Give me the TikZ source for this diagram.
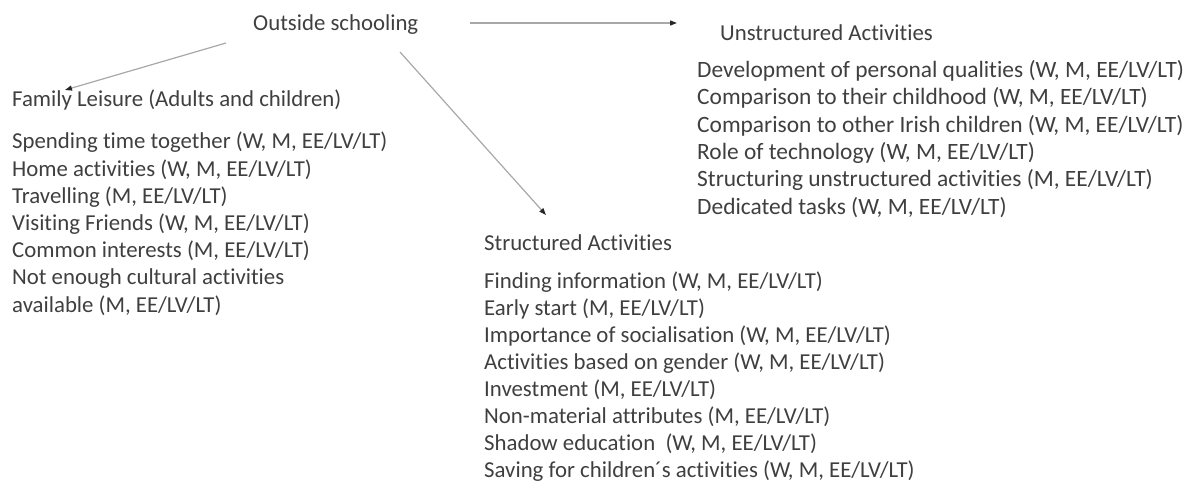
\documentclass[tikz,border=0pt]{standalone}
\usepackage{fontspec}
\setmainfont{Carlito}[Ligatures=NoCommon]
\usepackage{xcolor}
\usetikzlibrary{arrows.meta,positioning}
\definecolor{txtgray}{HTML}{3F3F3F}
\definecolor{lngray}{HTML}{A8A8A8}
\tikzset{
  head/.style = {anchor=west, inner sep=0pt, text=txtgray,
                 font=\fontsize{22.8}{27}\selectfont},
  lst/.style  = {anchor=north west, inner sep=0pt, align=left, text=txtgray,
                 font=\fontsize{22.8}{27.2}\selectfont},
  fl/.style   = {-{Triangle[length=7pt,width=5pt,color=black!85]}, line width=1.2pt, lngray},
}
\begin{document}
\begin{tikzpicture}[x=1pt,y=-1pt]
  \useasboundingbox (0,0) rectangle (1196,484);
  \node[head] (os) at (253,25) {Outside schooling};
  \node[head] (fam) at (12,100) {Family Leisure (Adults and children)};
  \node[lst] (famlst) at (12,132) {Spending time together (W, M, EE/LV/LT)\\
    Home activities (W, M, EE/LV/LT)\\ Travelling (M, EE/LV/LT)\\
    Visiting Friends (W, M, EE/LV/LT)\\ Common interests (M, EE/LV/LT)\\
    Not enough cultural activities\\ available (M, EE/LV/LT)};
  \node[head] (uns) at (720,33) {Unstructured Activities};
  \node[lst, font=\fontsize{23.4}{27.4}\selectfont] (unslst) at (697,60) {Development of personal qualities (W, M, EE/LV/LT)\\
    Comparison to their childhood (W, M, EE/LV/LT)\\
    Comparison to other Irish children (W, M, EE/LV/LT)\\
    Role of technology (W, M, EE/LV/LT)\\
    Structuring unstructured activities (M, EE/LV/LT)\\
    Dedicated tasks (W, M, EE/LV/LT)};
  \node[head] (str) at (484,243) {Structured Activities};
  \node[lst, font=\fontsize{22.8}{26.9}\selectfont] (strlst) at (484,272) {Finding information (W, M, EE/LV/LT)\\
    Early start (M, EE/LV/LT)\\ Importance of socialisation (W, M, EE/LV/LT)\\
    Activities based on gender (W, M, EE/LV/LT)\\ Investment (M, EE/LV/LT)\\
    Non-material attributes (M, EE/LV/LT)\\ Shadow education~ (W, M, EE/LV/LT)\\
    Saving for children´s activities (W, M, EE/LV/LT)};
  \draw[fl] ([xshift=-27pt,yshift=-18pt]os.west) -- ([xshift=53pt,yshift=10pt]fam.west);
  \draw[fl] ([xshift=217pt,yshift=2pt]os.west) -- ([xshift=-43pt,yshift=10pt]uns.west);
  \draw[fl] ([xshift=147pt,yshift=-27pt]os.west) -- ([xshift=62pt,yshift=28pt]str.west);
\end{tikzpicture}
\end{document}
